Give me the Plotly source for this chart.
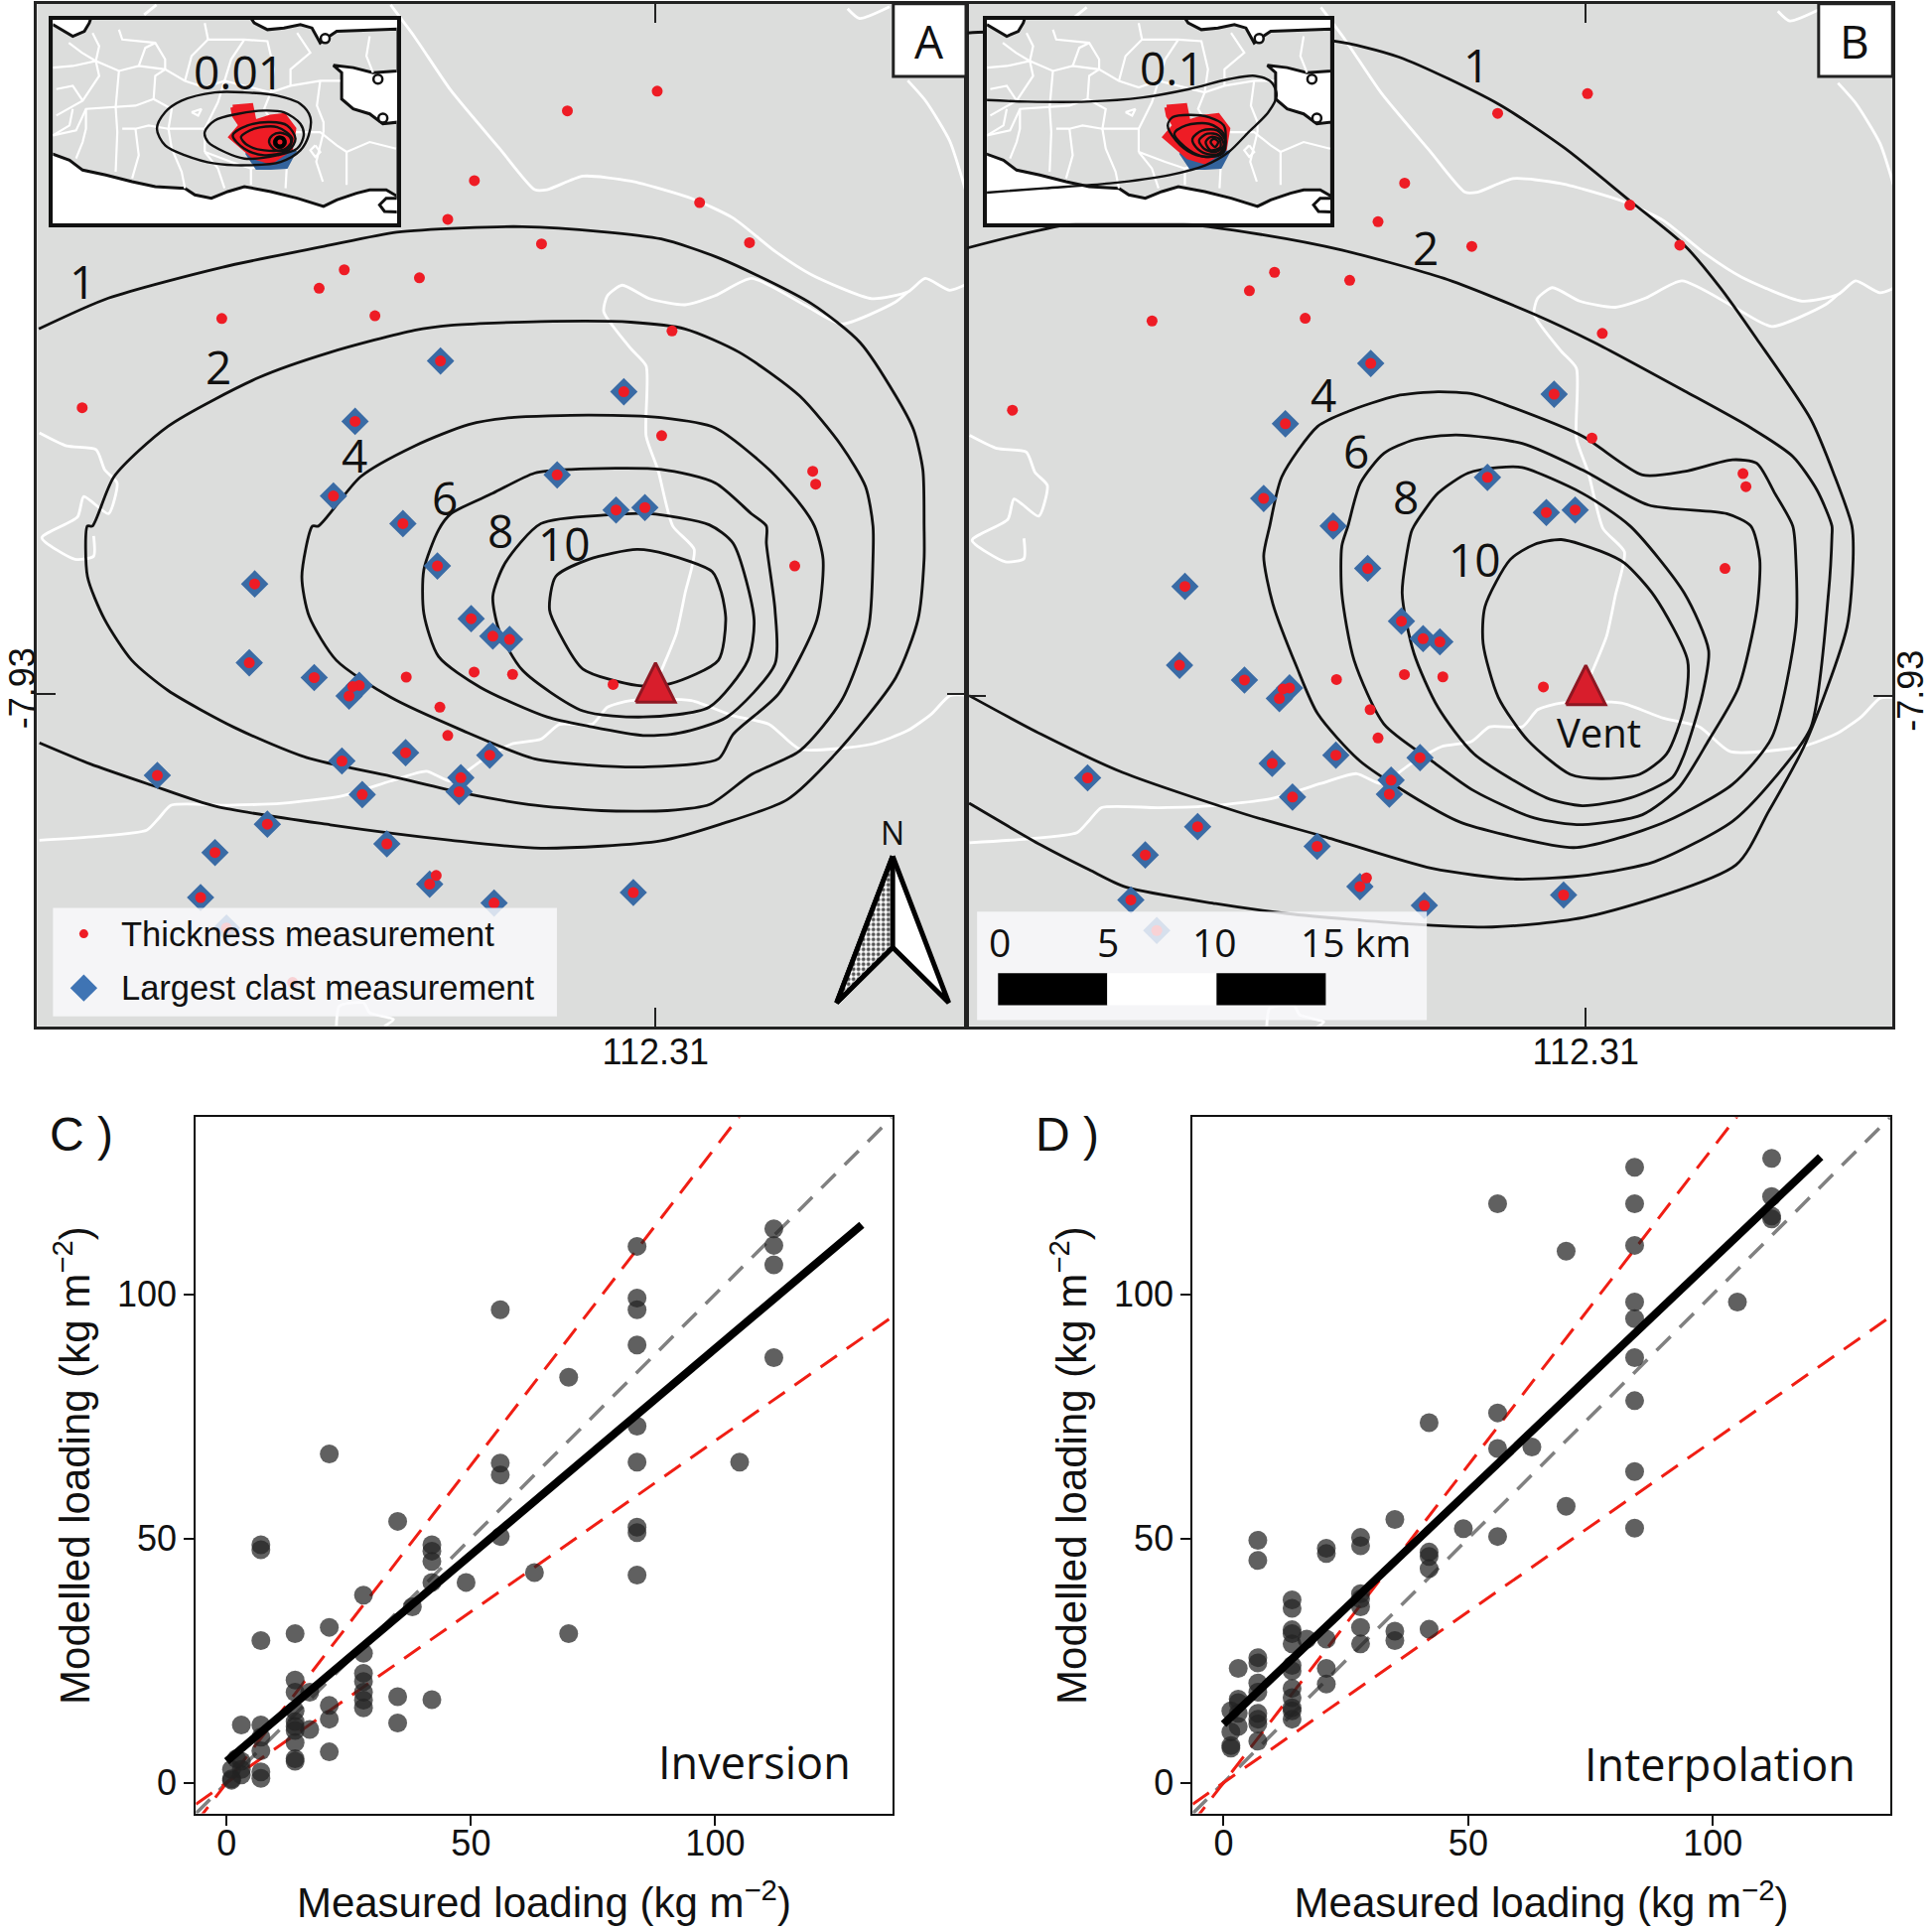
import plotly.graph_objects as go

# ---------- map data: offsets east / north of the 112.31, -7.93 graticule crossing, in map grid steps ----------
LON0, LAT0, DEG = 112.31, -7.93, 0.00051

THICK_E = [1.4,-71.5,-147,-168.6,35.8,76.3,-92.5,-252.6,-273,-191.6,-352,-227.7,13.4,-465.3,5,127.6,130,113,-202.3,-147.2,-116,-34.4,-175,-168.6,-178,-294.5,-245.7]
THICK_N = [489,473,416.4,385,398.5,366,365,344,329,337.5,304.5,306.7,294.4,232,209.4,180.5,170,103.6,13.4,17.5,15.6,7.4,-11,-34,-147.6,-234.5,5.8]
CLAST_E = [-174.5,-25.7,-243.8,-261.4,-79.8,-32,-8.6,-205,-177,-325.3,-149.6,-132,-118.4,-329.7,-277,-240.4,-248.7,-202.8,-254.5,-134.5,-158,-159.4,-404.3,-238,-315,-218,-357.5,-183.3,-369.2,-131,-18,-348.2]
CLAST_N = [270,245,221,160.4,177.5,149,151,138,103.6,89,60.8,46.6,44,25,13,6.6,-2,-48,-54.7,-50,-68.3,-79.7,-66.4,-82,-106,-122,-129,-154.7,-165.5,-170,-161.5,-190.3]

A1_E = [-500.5,-444,-352,-269,-210,-156,-108,-44,4.6,53,126.6,166,195,209.5,217,218,218,213,195,146,107,53,4.6,-93,-166,-264,-357,-410,-459,-500]
A1_N = [296,321,346,363,374.5,378,379,375,369,353,316.5,285,241.6,214,181.6,136,109,60,13,-49,-86,-106,-119.5,-125.5,-119,-106.5,-91.5,-74,-57,-40]
A2_E = [-457,-439.5,-395.6,-322,-264,-195.5,-166,-93,-20,24,68,117,151,170.5,176.5,176.5,173,151,117,78,44,9.5,-44,-103,-156.5,-215,-283,-342,-395.6,-425,-447,-461,-461,-457]
A2_N = [136,176,217,256.5,277,295,299,302,301.5,296,277,241.6,201,168,136,109,54,-5.6,-46.5,-65.6,-90,-95,-95,-90,-80.6,-67,-52,-27.4,2.5,27,60,95,136,136]
A4_E = [-273.6,-239.4,-195.5,-151.6,-117,-54,4.6,48.5,92.4,117,129,136,131,100,63,51,-10,-54,-98,-156.5,-215,-259,-281,-287,-278.4,-273.6]
A4_N = [136,176,201,218.4,224,226,224,215.7,181.6,154.4,136,109,60,0,-33,-53,-59.6,-58,-53,-30,-3,27,62.5,95,136,136]
A6_E = [-166,-132,-98,-68.6,4.6,48.5,77.8,90,90,97,97,58,19,-10,-54,-88,-142,-176,-188,-188,-176,-166]
A6_N = [146,162.6,179,182,182,171,146,136,122,68,24,-19,-32,-34,-26.6,-19,5,30,65,100.6,133,146]
A8_E = [-93,-39,-5,43.6,63,80,75,43.6,-10,-59,-108,-127,-132,-122,-93]
A8_N = [138,145,146,137,122,60,27,-11,-19,-14,19,51.6,79,106,138]
A10_E = [-15,9.5,46,53.6,57,51,12,-15,-59,-78,-86,-81,-54,-15]
A10_N = [117,113,99,81.5,60,27,8,6.6,20,49,68,95,109,117]

B1_E = [-505,-486,-207,-151.6,-71,-17.4,36.3,80,109.5,138.7,182.7,202.2,216,217,212,178,148.5,122,2,-76,-144,-242,-300.4,-373.6,-403,-442,-500.5]
B1_N = [538,539,532,518.7,480.6,445,401.6,366,331,290,224.5,178,138,111,56,-39,-93.5,-137,-179,-187.5,-185,-176.6,-168.5,-155,-141,-121,-87]
B2_E = [-503,-417.6,-334.6,-261.4,-198,-115,-41.8,7,80,134,168,187.6,199.8,199.8,197,182.7,153.4,119,56,2,-56.4,-124.8,-212.6,-276,-376,-442,-500.5]
B2_N = [363.4,383,384,374.3,362,339,310,287,247.7,217.7,194.5,167.3,138,130,83.5,-25.4,-66.3,-101.7,-134.4,-145.3,-148.6,-139.9,-114,-96,-62,-31,0.4]
B4_E = [-256.5,-246.7,-217.5,-193,-154,-120,-90.6,-66,-2.8,46,80,119,138.8,153.4,168,170.5,170.5,151,119,65.6,26.5,-10,-100.4,-129.6,-183.3,-217.5,-234.6,-254,-261.4,-256.5]
B4_N = [138,178,219,231,243.6,247,245,236.7,211,179.5,182.3,191.8,189,164.6,138,111,56,-33.6,-71.7,-101.7,-115.3,-123,-103,-88,-52.7,-14.5,23.6,75,113.5,138]
B6_E = [-193,-183,-163.8,-139.4,-105.2,-51.6,-2.8,51,114.4,134,141.2,138.8,124,99.7,75.3,46,-2.8,-41.8,-90.6,-124.8,-163.8,-188,-198,-198,-193]
B6_N = [138,172.7,197,208,212,205,183.6,155,148,138,111,70,7,-36,-74.5,-96.3,-104.4,-99,-77,-52.7,-22.7,29,83.5,121.7,138]
B8_E = [-139.4,-120,-95.5,-71,-51.6,-2.8,36,80,99.7,94.8,80,70.4,36.3,-2.8,-32,-90.6,-120,-139.4,-149,-141.8,-139.4]
B8_N = [138,164.6,181,185.5,185.5,164.6,138,83.5,37,2,-47,-66,-82.6,-89,-82.6,-47,-9,34.5,83.5,132.5,138]
B10_E = [-19.8,12,31.4,55.8,82.6,80,65.6,43.6,12,-12.6,-46.7,-71,-83.3,-81.8,-61.3,-41.8,-19.8]
B10_N = [127,117.6,108,81,29,-9,-47,-63.6,-67,-63.6,-36.3,-1,42.7,72.6,110.8,123,127]

ROADS = [
    [(-215,559),(-195.5,533),(-166,489.5),(-127,443),(-98,409),(-88,409),(-59,420),(-20,416),(29,402),(63,386),(97,359),(126.6,340),(175.5,320.6),(204.7,326),(219,337),(238.8,327.4),(256,334)],
    [(204.7,326),(195,318),(151,300),(121.7,315),(78,337),(48.5,323),(24,315.6),(-5,320.6),(-27,331.5),(-39,323),(-42,310),(-20,280),(-7.6,266),(-7.6,209),(2,181.6),(14,136),(31.4,117),(24,81.5),(17,49),(7,24),(0,8)],
    [(-500,-119),(-454,-116),(-413,-111),(-403,-101),(-393,-90.6),(-347,-90.6),(-303,-89),(-254,-83),(-215,-71),(-186,-63),(-166,-71),(-142,-55),(-117,-41),(-93,-37),(-78,-25),(-51.5,-25),(-39,-11),(-20,-5.6),(29,-5.6),(63,-18),(92.4,-25),(117,-45),(175.5,-41),(204.7,-30),(224,-16.5),(239,-1.6),(256,-1.6)],
    [(-500,211.6),(-478,201),(-454,198),(-447,181.6),(-437,171),(-444,146),(-464,160),(-469,143.5),(-498,126.5),(-471,109),(-456,111.5),(-456,128)],
    [(155.9,556),(165.6,548),(190,557.5)],
    [(204.7,497.6),(219.3,481),(238.8,448.6),(253.5,402)],
    [(-259,-270),(-256.5,-253.5),(-237,-251),(-232,-259),(-212.6,-264.4),(-220,-270)],
    [(-415,551),(-405,559)],
]

# ---------- inset data ----------
LAND = [(-688,355),(-648,330),(-628,320),(-593,335),(-578,360),(-573,375),(-88,375),(-78,360),(-38,340),(12,345),(62,355),(97,345),(122,300),(142,315),(172,335),(357,342),(357,215),(282,210),(222,225),(162,232),(187,210),(187,130),(222,100),(272,85),(312,55),(357,60),(357,-165),(322,-145),(272,-145),(232,-155),(172,-175),(132,-195),(52,-170),(-28,-150),(-108,-135),(-158,-150),(-208,-170),(-258,-160),(-288,-140),(-378,-135),(-448,-120),(-528,-100),(-598,-85),(-638,-55),(-688,-35),(-693,-35),(-693,355),(-688,355)]
ISLET = [(357,-170),(322,-170),(302,-190),(317,-210),(357,-212)]
INSET_RINGS = [(297,190),(312,72),(137,313)]
BORDERS = [
    [(-688,225),(-628,230),(-558,245),(-488,215),(-428,230),(-348,220),(-288,185),(-228,165),(-168,185),(-108,170),(-28,150),(32,170),(122,185),(182,185)],
    [(-568,330),(-548,290),(-558,245),(-548,200),(-598,125),(-678,80)],
    [(-488,340),(-478,310),(-378,300),(-348,250),(-348,220),(-378,200),(-383,130),(-328,100),(-338,40),(-228,40)],
    [(-228,360),(-218,310),(-108,310),(-38,305),(-18,220),(-28,150)],
    [(-688,20),(-618,35),(-588,100),(-498,105),(-438,110),(-383,130)],
    [(-488,215),(-498,105),(-493,30),(-498,-90)],
    [(-588,100),(-588,40),(-598,0),(-618,-50)],
    [(-338,40),(-328,-20),(-298,-90),(-288,-140)],
    [(-228,-30),(-188,-80),(-168,-140)],
    [(-88,-80),(-88,-130)],
    [(22,-50),(17,-140)],
    [(42,30),(122,30),(172,-10),(202,-30),(272,0),(352,-20)],
    [(202,-30),(202,-130)],
    [(122,185),(112,110),(132,60),(132,30)],
    [(272,320),(262,260),(282,210)],
    [(52,330),(92,270),(32,220),(32,170)],
    [(-268,90),(-238,100),(-248,80),(-268,90)],
    [(107,-10),(122,-30),(107,-45),(92,-25),(107,-10)],
    [(-640,300),(-600,270),(-558,245)],
    [(-678,160),(-628,170),(-598,125)],
    [(-428,230),(-408,285),(-378,300)],
    [(-288,185),(-268,260),(-218,310)],
    [(-168,185),(-148,250),(-108,310)],
    [(-168,185),(-188,120),(-228,40),(-228,-30)],
    [(-28,150),(-48,100),(-18,50),(42,30)],
    [(-628,100),(-638,50),(-688,20)],
    [(-478,40),(-438,40),(-398,50),(-338,40)],
    [(-438,40),(-428,-40),(-448,-110)],
    [(-228,-30),(-148,-60),(-88,-80),(22,-50)],
    [(132,30),(110,-60),(130,-120)],
    [(232,150),(262,110),(300,130),(320,180)],
]
RED_BLOB = [(-143,105),(-88,110),(-78,60),(-28,75),(12,80),(42,40),(32,-20),(-28,-60),(-78,-45),(-118,-10),(-148,15),(-118,50),(-138,80),(-143,105)]
BLUE_BLOB = [(-98,-30),(-68,-75),(-28,-75),(17,-72),(37,-35),(-98,-30)]
INSET_A_LOOPS = [
    [(-373,40),(-348,90),(-298,125),(-198,150),(-108,150),(-8,140),(62,115),(92,75),(87,20),(62,-25),(2,-60),(-88,-70),(-198,-65),(-288,-40),(-348,-10),(-373,40)],
    [(-228,30),(-198,65),(-128,85),(-48,95),(12,90),(62,55),(72,20),(52,-20),(-8,-40),(-108,-50),(-168,-30),(-218,0),(-228,30)],
    [(-143,20),(-98,50),(-28,60),(22,50),(47,10),(27,-25),(-48,-40),(-108,-20),(-143,20)],
    [(-118,15),(-78,40),(-8,45),(37,10),(17,-20),(-48,-25),(-98,-10),(-118,15)],
    [(-33,0),(-23,20),(2,28),(30,15),(34,-5),(17,-25),(-13,-25),(-33,0)],
    [(-18,0),(-8,15),(12,12),(17,-5),(2,-18),(-13,-12),(-18,0)],
]
INSET_B_LOOPS = [
    [(-690,127),(-565,122),(-385,122),(-215,135),(-75,160),(45,190),(125,200),(175,180),(190,140),(165,90),(105,30),(45,-30),(-25,-70),(-135,-100),(-315,-125),(-515,-140),(-690,-153)],
    [(-140,50),(-125,75),(-75,82),(-15,75),(30,50),(35,0),(25,-35),(-15,-45),(-65,-35),(-115,5),(-140,50)],
    [(-120,25),(-85,50),(-15,55),(30,25),(30,-30),(-25,-45),(-75,-25),(-120,25)],
    [(-65,10),(-35,35),(10,35),(35,0),(15,-35),(-25,-35),(-55,-15),(-65,10)],
    [(-45,5),(-20,25),(15,20),(30,-10),(5,-30),(-30,-20),(-45,5)],
    [(-25,0),(-10,15),(15,10),(20,-15),(-10,-25),(-25,0)],
    [(-10,0),(0,10),(13,0),(3,-15),(-10,0)],
]

# ---------- scatter data ----------
C_X = [112,112,112,112,105,84,84,84,84,84,84,84,84,84,70,70,63,56,56,56,56,49,42,42,42,42,42,35,35,35,28,28,28,28,28,28,28,21,21,21,21,21,17,17,14,14,14,14,14,14,14,14,14,14,7,7,7,7,7,7,7,7,3,3,3,3,1,1,1,2,38]
C_Y = [113.4,110,106,87,65.6,109.8,99.2,96.8,89.6,73,65.6,52.3,51.2,42.5,83,30.5,43,96.8,65.4,63,50.4,41,48.7,47.4,45.3,41,17,53.5,17.6,12.2,38.4,26.5,22.4,20.7,18.5,16.9,15.3,67.3,31.8,15.8,13,6.3,10.9,18.5,30.5,21,18.5,14.7,12.5,11.5,10.7,8.2,4.9,4.4,48.7,47.7,29.1,11.8,9.3,6.5,2.2,0.9,11.8,4.4,2.7,1.6,2.7,0.8,0.5,4.9,36]
D_X = [112,112,112,112,105,84,84,84,84,84,84,84,84,84,70,70,63,56,56,56,56,49,42,42,42,42,42,35,35,35,28,28,28,28,28,28,28,21,21,21,21,21,17,14,14,14,14,14,14,14,14,14,14,14,14,7,7,7,7,7,7,7,7,7,7,3,3,3,3,3,1.5,1.5,1.5,1.5]
D_Y = [127.8,120,116,115.4,98.4,126,118.5,110,98.4,95,87,78.2,63.7,52.1,108.8,56.6,68.7,118.5,75.7,68.4,50.4,52,73.7,47.2,46.3,43.8,31.4,53.9,31,29.1,50.2,48.5,38.7,37.6,36,31.8,28.4,48,46.9,29.4,23.4,20.2,29.4,37.4,35.7,31.3,30.5,28.4,24,22.9,19.3,17.4,15.3,14.7,13,49.6,45.5,25.6,24.5,20.4,18.5,14.2,13,12,8.5,23.4,17.1,16.4,14.2,11.5,14.7,10.4,7.6,7.1]
C_FIT_X, C_FIT_Y = [0,130], [4.4,114.2]
D_FIT_X, D_FIT_Y = [0,122], [12,128.1]
ONE_X, ONE_Y = [-6.3,136.3], [-6.3,136.3]
UP_X, UP_Y = [-6.3,105], [-8.2,136.5]
LOW_X, LOW_Y = [-6.3,136.3], [-4.4,95.4]

SCALE_KM = [0,5,10,15]

# ---------- layout helpers ----------
W, H = 1946, 1942
SW, SH = 1568, 1565
def fx(p): return p/SW
def fy(p): return 1-p/SH
def lon(e): return [LON0+v*DEG for v in e]
def lat(n): return [LAT0+v*DEG for v in n]

fig = go.Figure()
def line(x,y,sp,color='#111',width=2.5,dash=None,smooth=0.0):
    fig.add_trace(go.Scatter(x=x,y=y,mode='lines',xaxis='x'+sp,yaxis='y'+sp,showlegend=False,hoverinfo='skip',
        line=dict(color=color,width=width,dash=dash,shape='spline' if smooth else 'linear',smoothing=smooth or None)))
def pts(x,y,sp,symbol,size,color,lc=None,lw=0):
    fig.add_trace(go.Scatter(x=x,y=y,mode='markers',xaxis='x'+sp,yaxis='y'+sp,showlegend=False,hoverinfo='skip',
        marker=dict(symbol=symbol,size=size,color=color,line=dict(color=lc or color,width=lw))))
def poly(coords,sp,face,edge=None,width=0,geo=True,pattern=None):
    xs=[c[0] for c in coords]; ys=[c[1] for c in coords]
    if geo: xs,ys=lon(xs),lat(ys)
    fig.add_trace(go.Scatter(x=xs,y=ys,mode='lines',xaxis='x'+sp,yaxis='y'+sp,showlegend=False,hoverinfo='skip',
        fill='toself',fillcolor=face,fillpattern=pattern,line=dict(color=edge or 'rgba(0,0,0,0)',width=width)))

BG = '#dcdddc'; RED = '#ee1c25'; BLUE = '#33639c'
CONT_A = [(A1_E,A1_N),(A2_E,A2_N),(A4_E,A4_N),(A6_E,A6_N),(A8_E,A8_N),(A10_E,A10_N)]
CONT_B = [(B1_E,B1_N),(B2_E,B2_N),(B4_E,B4_N),(B6_E,B6_N),(B8_E,B8_N),(B10_E,B10_N)]
VENT = [(-16,-7),(16,-7),(0,25),(-16,-7)]

for sp,conts in (('',CONT_A),('2',CONT_B)):
    for r in ROADS:
        line(lon([p[0] for p in r]),lat([p[1] for p in r]),sp,color='#ffffff',width=2.8,smooth=0.6)
    for e,n in conts:
        line(lon(e),lat(n),sp,width=2.8,smooth=0.7)
    pts(lon(CLAST_E),lat(CLAST_N),sp,'diamond',18,'#3a6ba5','#3a6ba5',3)
    pts(lon(CLAST_E),lat(CLAST_N),sp,'circle',11,RED)
    pts(lon(THICK_E),lat(THICK_N),sp,'circle',11,RED)
    poly(VENT,sp,'#d81e2c','#8e1722',3)
    if sp=='':
        poly([(-489,-174),(-80,-174),(-80,-262),(-489,-262),(-489,-174)],sp,'rgba(250,250,252,0.82)')
        pts(lon([-464]),lat([-239]),sp,'diamond',21,'#3f74b4','#3f74b4',0)
        pts(lon([-464]),lat([-195]),sp,'circle',9,RED)
        poly([(192.5,-132),(238,-251),(192.5,-206),(147,-251),(192.5,-132)],sp,'#ffffff','#000',5)
        poly([(192.5,-132),(147,-251),(192.5,-206),(192.5,-132)],sp,'#c8c8c8','#000',5,
             pattern=dict(shape='.',size=5,solidity=0.45,fgcolor='#555555',bgcolor='#ffffff',fillmode='replace'))
    else:
        poly([(-494,-175),(-129,-175),(-129,-263),(-494,-263),(-494,-175)],sp,'rgba(250,250,252,0.82)')
        U = 266/15; X0 = -477
        for a,b,c in ((SCALE_KM[0],SCALE_KM[1],'#000'),(SCALE_KM[1],SCALE_KM[2],'#fff'),(SCALE_KM[2],SCALE_KM[3],'#000')):
            poly([(X0+a*U,-225),(X0+b*U,-225),(X0+b*U,-251),(X0+a*U,-251),(X0+a*U,-225)],sp,c)

for sp,loops in (('3',INSET_A_LOOPS),('4',INSET_B_LOOPS)):
    poly([(-700,380),(360,380),(360,-250),(-700,-250),(-700,380)],sp,'#ffffff',geo=False)
    poly(LAND,sp,BG,'#111',3,geo=False)
    poly(ISLET,sp,'#ffffff','#111',3,geo=False)
    pts([p[0] for p in INSET_RINGS],[p[1] for p in INSET_RINGS],sp,'circle',9,'#ffffff','#111',2.5)
    for b in BORDERS:
        line([p[0] for p in b],[p[1] for p in b],sp,color='#ffffff',width=2.2)
    poly(BLUE_BLOB,sp,BLUE,BLUE,6,geo=False)
    poly(RED_BLOB,sp,RED,RED,5,geo=False)
    for l in loops:
        line([p[0] for p in l],[p[1] for p in l],sp,width=2.4,smooth=0.9)
    if sp=='3':
        pts([0],[0],sp,'circle',9,RED,'#000',4)

for sp,X,Y,FX,FY in (('5',C_X,C_Y,C_FIT_X,C_FIT_Y),('6',D_X,D_Y,D_FIT_X,D_FIT_Y)):
    line(ONE_X,ONE_Y,sp,color='#808080',width=3.5,dash='20px,13px')
    line(UP_X,UP_Y,sp,color='#f01e14',width=3,dash='20px,12px')
    line(LOW_X,LOW_Y,sp,color='#f01e14',width=3,dash='20px,12px')
    pts(X,Y,sp,'circle',19,'rgba(35,35,35,0.72)')
    line(FX,FY,sp,color='#000',width=8)

def map_axes(xdom,ydom,xr,yr,yside):
    common=dict(automargin=False,showgrid=False,zeroline=False,showline=True,linecolor='#222',linewidth=3,mirror='ticks',
                ticks='inside',ticklen=19,tickwidth=2,tickcolor='#222')
    xa=dict(domain=xdom,range=[LON0+xr[0]*DEG,LON0+xr[1]*DEG],tickvals=[LON0],ticktext=['112.31'],ticklabelstandoff=-8,
            tickfont=dict(family='Liberation Sans',size=36,color='#111'),**common)
    ya=dict(domain=ydom,range=[LAT0+yr[0]*DEG,LAT0+yr[1]*DEG],tickvals=[LAT0],ticktext=['-7.93'],tickangle=-90,side=yside,
            ticklabelstandoff=-15,tickfont=dict(family='Liberation Sans',size=36,color='#111'),**common)
    return xa,ya
def inset_axes(xdom,ydom):
    c=dict(automargin=False,showgrid=False,zeroline=False,showticklabels=False,ticks='',showline=True,linecolor='#111',linewidth=3.5,mirror=True)
    return dict(domain=xdom,range=[-688,354],**c),dict(domain=ydom,range=[-245,370],**c)
def sc_axes(xdom,ydom):
    c=dict(automargin=False,showgrid=False,zeroline=False,showline=True,linecolor='#111',linewidth=2,mirror=True,range=[-6.3,136.2],
           tickvals=[0,50,100],ticks='outside',ticklen=10,tickwidth=2,tickcolor='#111',
           tickfont=dict(family='Liberation Sans',size=36,color='#111'))
    xa=dict(domain=xdom,ticklabelstandoff=-13,title=dict(text='Measured loading (kg m<sup>−2</sup>)',font=dict(family='Liberation Sans',size=42,color='#111'),standoff=26),**c)
    ya=dict(domain=ydom,title=dict(text='Modelled loading (kg m<sup>−2</sup>)',font=dict(family='Liberation Sans',size=42,color='#111'),standoff=14),**c)
    return xa,ya

xa1,ya1=map_axes([fx(30),fx(784)],[fy(833),fy(3)],(-502,252),(-270,560),'left')
xa2,ya2=map_axes([fx(785),fx(1536)],[fy(833),fy(3)],(-502,249),(-268,562),'right')
xa3,ya3=inset_axes([fx(43),fx(322)],[fy(181),fy(16)])
xa4,ya4=inset_axes([fx(801),fx(1080)],[fy(181),fy(16)])
xa5,ya5=sc_axes([fx(159),fx(724)],[fy(1472),fy(907)])
xa6,ya6=sc_axes([fx(968),fx(1534)],[fy(1472),fy(907)])
for i,(a,b) in enumerate(((xa1,ya1),(xa2,ya2),(xa3,ya3),(xa4,ya4),(xa5,ya5),(xa6,ya6)),start=1):
    s='' if i==1 else str(i)
    a['anchor']='y'+s; b['anchor']='x'+s
    fig.layout['xaxis'+s]=a; fig.layout['yaxis'+s]=b

def label(t,x,y,size=46,fam='Open Sans',anchor='center',color='#111'):
    return dict(text=t,x=fx(x),y=fy(y),xref='paper',yref='paper',showarrow=False,xanchor=anchor,yanchor='middle',
                font=dict(family=fam,size=size,color=color))
ann=[]
for t,x,y in (('1',67,228),('2',177,297),('4',288,369),('6',361,404),('8',406,430),('10',458,441),('0.01',194,58),
              ('1',1198,52),('2',1157,201),('4',1074,320),('6',1101,366),('8',1141,403),('10',1197,454),('0.1',951,55)):
    ann.append(label(t,x,y))
ann+= [label('A',754,33),label('B',1505,33),label('N',724,676,size=32),label('Vent',1298,594,size=40),
       label('Inversion',612,1430,size=45),label('Interpolation',1396,1432,size=45),
       label('C )',66,921,size=48,fam='Liberation Sans'),label('D )',866,921,size=48,fam='Liberation Sans'),
       label('Thickness measurement',97,758,size=34.5,fam='Liberation Sans',anchor='left'),
       label('Largest clast measurement',97,802,size=34.5,fam='Liberation Sans',anchor='left')]
for km,x in zip(SCALE_KM[:3],(811,899,986)):
    ann.append(label(str(km),x,764,size=39))
ann.append(label(f'{SCALE_KM[3]} km',1100,764,size=39))

boxes=[dict(type='rect',xref='paper',yref='paper',x0=fx(725),x1=fx(784),y0=fy(62),y1=fy(3),fillcolor='#fff',line=dict(color='#222',width=3),layer='above'),
       dict(type='rect',xref='paper',yref='paper',x0=fx(1476),x1=fx(1536),y0=fy(62),y1=fy(3),fillcolor='#fff',line=dict(color='#222',width=3),layer='above')]

fig.update_layout(width=W,height=H,margin=dict(l=0,r=0,t=0,b=0),autosize=False,paper_bgcolor='#fff',plot_bgcolor=BG,
                  showlegend=False,annotations=ann,shapes=boxes)
fig.add_shape(type='rect',xref='x5 domain',yref='y5 domain',x0=0,x1=1,y0=0,y1=1,fillcolor='#fff',line_width=0,layer='below')
fig.add_shape(type='rect',xref='x6 domain',yref='y6 domain',x0=0,x1=1,y0=0,y1=1,fillcolor='#fff',line_width=0,layer='below')

fig.write_html("out.html",config=dict(displayModeBar=False),post_script="document.body.style.margin='0';document.body.style.overflow='hidden';")
